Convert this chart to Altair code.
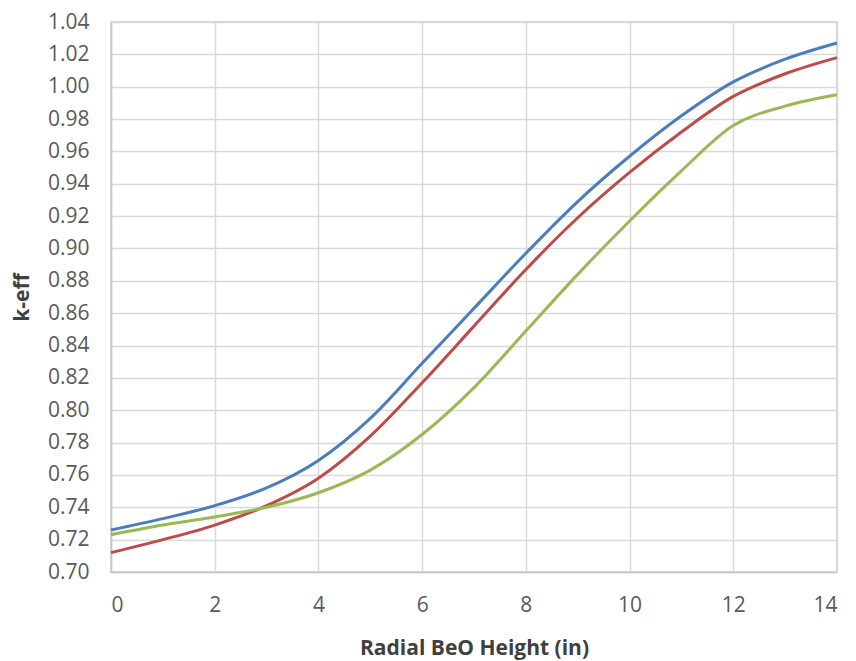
import altair as alt
import pandas as pd

heights = list(range(0, 15))
blue_keff = [0.726, 0.733, 0.741, 0.752, 0.769, 0.795, 0.829, 0.863, 0.897, 0.929, 0.957, 0.982, 1.003, 1.017, 1.027]
red_keff = [0.712, 0.720, 0.729, 0.741, 0.758, 0.784, 0.817, 0.852, 0.887, 0.919, 0.947, 0.972, 0.994, 1.008, 1.018]
green_keff = [0.723, 0.729, 0.734, 0.740, 0.749, 0.763, 0.785, 0.814, 0.849, 0.884, 0.917, 0.948, 0.976, 0.988, 0.995]
series_names = ["Blue", "Red", "Green"]
series_colors = ["#4A7EBB", "#BE4B48", "#98B954"]
x_ticks = [0, 2, 4, 6, 8, 10, 12, 14]
y_ticks = [round(0.70 + 0.02 * i, 2) for i in range(18)]

rows = []
for name, vals in zip(series_names, [blue_keff, red_keff, green_keff]):
    for h, v in zip(heights, vals):
        rows.append({"h": h, "k": v, "s": name})
df = pd.DataFrame(rows)

FONT = "Open Sans"

chart = alt.Chart(df).mark_line(strokeWidth=3, interpolate="monotone").encode(
    x=alt.X("h:Q", scale=alt.Scale(domain=[0, 14], nice=False),
            axis=alt.Axis(values=x_ticks, title="Radial BeO Height (in)", labelFontSize=21,
                          labelColor="#5A5A5A", labelFont=FONT, labelPadding=22, ticks=False,
                          domainColor="#C8C8C8", gridColor="#D9D9D9", titleFont=FONT,
                          titleFontSize=21, titleFontWeight="bold", titleColor="#404040",
                          titlePadding=22)),
    y=alt.Y("k:Q", scale=alt.Scale(domain=[0.70, 1.04], nice=False, zero=False),
            axis=alt.Axis(values=y_ticks, format=".2f", title="k-eff", labelFontSize=21,
                          labelColor="#5A5A5A", labelFont=FONT, labelPadding=22, ticks=False,
                          domainColor="#C8C8C8", gridColor="#D9D9D9", titleFont=FONT,
                          titleFontSize=21, titleFontWeight="bold", titleColor="#404040",
                          titlePadding=15)),
    color=alt.Color("s:N", scale=alt.Scale(domain=series_names, range=series_colors), legend=None),
).properties(
    width=726, height=550,
    autosize=alt.AutoSizeParams(type="none"),
    padding={"left": 103, "top": 14, "right": 10, "bottom": 95},
).configure_view(stroke="#C8C8C8", strokeWidth=1.5).configure_axis(gridWidth=1.5, domainWidth=1.5)

chart.save("out.html", embed_options={"renderer": "svg", "actions": False})
